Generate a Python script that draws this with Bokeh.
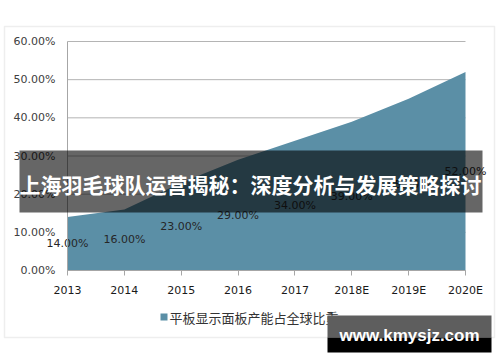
from bokeh.plotting import figure
from bokeh.models import (Range1d, FixedTicker, ColumnDataSource, BoxAnnotation, Label, LinearAxis)
from bokeh.core.properties import value
from bokeh.embed import file_html
from bokeh.resources import INLINE

# ---- data ----
years = ["2013", "2014", "2015", "2016", "2017", "2018E", "2019E", "2020E"]
share = [14, 16, 23, 29, 34, 39, 45, 52]
share_labels = ["14.00%", "16.00%", "23.00%", "29.00%", "34.00%", "39.00%", "45.00%", "52.00%"]
y_ticks = [0, 10, 20, 30, 40, 50, 60]
y_tick_labels = ["0.00%", "10.00%", "20.00%", "30.00%", "40.00%", "50.00%", "60.00%"]
series_name = "平板显示面板产能占全球比重"
banner_title = "上海羽毛球队运营揭秘：深度分析与发展策略探讨"
watermark = "www.kmysjz.com"

W, H = 500, 362
AREA = "#5b8fa6"

# frame placement (pixels in the picture)
PX_L, PX_R, PY_T, PY_B = 67, 465, 41, 270
n = len(years) - 1
ux = (PX_R - PX_L) / n
uy = (PY_B - PY_T) / (y_ticks[-1] - y_ticks[0])
x_range = Range1d(-PX_L / ux, n + (W - PX_R) / ux)
y_range = Range1d(y_ticks[0] - (H - PY_B) / uy, y_ticks[-1] + PY_T / uy)

def cx(sx):
    return sx

def cy(sy):
    return H - sy

def sbox(l, t, r, b, **kw):
    return BoxAnnotation(left=cx(l), right=cx(r), top=cy(t), bottom=cy(b),
                         left_units="screen", right_units="screen",
                         top_units="screen", bottom_units="screen", **kw)

p = figure(width=W, height=H, output_backend="svg", toolbar_location=None,
           x_range=x_range, y_range=y_range, x_axis_type=None, y_axis_type=None,
           min_border=0)
p.outline_line_color = None
p.background_fill_color = "white"
p.border_fill_color = "white"
p.grid.visible = False

xs = list(range(len(years)))
src = ColumnDataSource(dict(x=xs, y=share, y0=[0] * len(xs),
                            ly=[v / 2 for v in share], lab=share_labels))

# gridlines
gsrc = ColumnDataSource(dict(x0=[xs[0]] * len(y_ticks), x1=[xs[-1]] * len(y_ticks), y=y_ticks))
p.segment(x0="x0", x1="x1", y0="y", y1="y", source=gsrc, line_color="#b4b4b4", line_width=1)

p.varea(x="x", y1="y0", y2="y", source=src, fill_color=AREA)
p.text(x="x", y="ly", text="lab", source=src, text_align="center", text_baseline="middle",
       text_font=value("DejaVu Sans"), text_font_size="11px", text_color="#262626")

# axes drawn inside the frame at fixed locations
xaxis = LinearAxis(fixed_location=0, bounds=(xs[0], xs[-1]))
xaxis.ticker = FixedTicker(ticks=xs)
xaxis.major_label_overrides = {i: y for i, y in enumerate(years)}
yaxis = LinearAxis(fixed_location=0, bounds=(y_ticks[0], y_ticks[-1]))
yaxis.ticker = FixedTicker(ticks=y_ticks)
yaxis.major_label_overrides = {t: l for t, l in zip(y_ticks, y_tick_labels)}
for ax in (xaxis, yaxis):
    ax.axis_line_color = "#a6a6a6"
    ax.major_tick_line_color = "#a6a6a6"
    ax.minor_tick_line_color = None
    ax.major_label_text_font = "DejaVu Sans"
    ax.major_label_text_font_size = "11px"
xaxis.major_tick_in = 0
xaxis.major_tick_out = 5
xaxis.major_label_standoff = 8
xaxis.major_label_text_color = "#1a1a1a"
yaxis.major_tick_in = 0
yaxis.major_tick_out = 0
yaxis.major_label_standoff = 12
yaxis.major_label_text_color = "#404040"
p.add_layout(xaxis, "below")
p.add_layout(yaxis, "left")

# outer chart border
p.add_layout(sbox(4, 26, 494, 337, fill_color=None, line_color="#c8c8c8", line_width=1.5))

# legend
p.add_layout(sbox(160, 313, 167, 320, fill_color=AREA, fill_alpha=1, line_color=None))
p.add_layout(Label(x=cx(169), y=cy(317), x_units="screen", y_units="screen",
                   text=series_name, text_font="Noto Sans CJK SC", text_font_size="13px",
                   text_color="#333333", text_baseline="middle", text_align="left"))

# banner
p.add_layout(sbox(19, 150, 482, 212, fill_color="black", fill_alpha=0.6, line_color=None))
p.add_layout(Label(x=cx(250), y=cy(183), x_units="screen", y_units="screen",
                   text=banner_title, text_font="Noto Sans CJK SC", text_font_size="21px",
                   text_font_style="bold", text_color="white",
                   text_baseline="middle", text_align="center"))

# watermark
p.add_layout(sbox(327, 315, 491, 337, fill_color="#5e5e5e", fill_alpha=1, line_color=None))
p.add_layout(sbox(327, 337, 491, 352, fill_color="black", fill_alpha=1, line_color=None))
p.add_layout(Label(x=cx(409), y=cy(335), x_units="screen", y_units="screen",
                   text=watermark, text_font="Liberation Sans", text_font_size="17px",
                   text_font_style="bold", text_color="white",
                   text_baseline="middle", text_align="center"))

open("out.html", "w").write(file_html(p, INLINE))
